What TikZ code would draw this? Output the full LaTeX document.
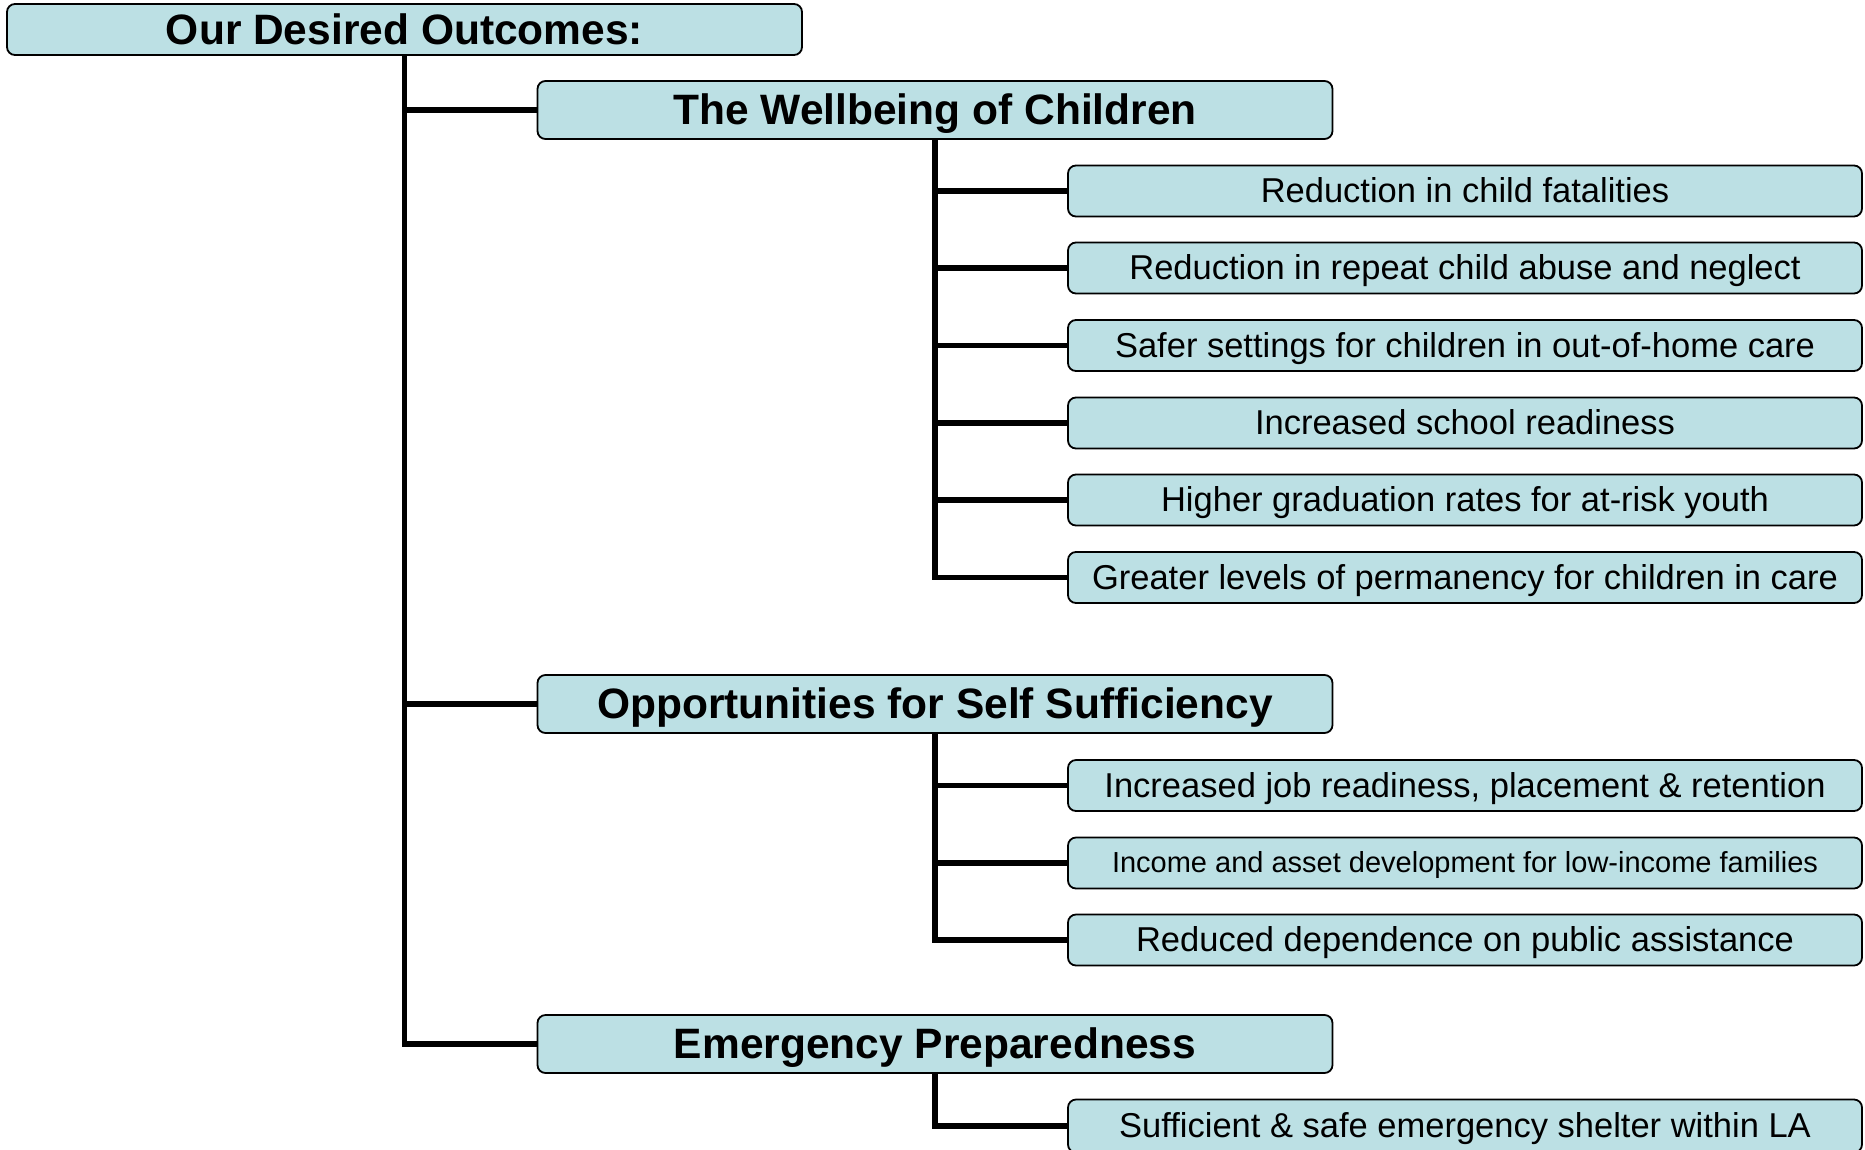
\documentclass[tikz,border=0pt]{standalone}
\usepackage{fontspec}
\setmainfont{Liberation Sans}
\usepackage{xcolor}
\definecolor{boxfill}{RGB}{188,224,228}

\begin{document}
\begin{tikzpicture}[x=1pt,y=-1pt]
	\tikzstyle{every node}+=[inner sep=0pt,text depth=0pt]
	\tikzstyle{headbox}=[draw=black,line width=1.8pt,fill=boxfill,rounded corners=8pt,minimum width=795pt,minimum height=58pt,text height=29pt,font=\fontsize{42.5}{50}\selectfont\bfseries]
	\tikzstyle{goalbox}=[draw=black,line width=1.8pt,fill=boxfill,rounded corners=8pt,minimum width=794pt,minimum height=51pt,text height=23.5pt,font=\fontsize{34.5}{40}\selectfont]
	\tikzstyle{trunk}=[black,line width=5.5pt]
	\useasboundingbox (0,0) rectangle (1865,1149);
	\node [headbox,minimum height=51pt] (top) at (404.5,29.5) {Our Desired Outcomes:};
	\node [headbox] (wb) at (935,110) {The Wellbeing of Children};
	\node [headbox] (opp) at (935,704) {Opportunities for Self Sufficiency};
	\node [headbox] (em) at (935,1044) {Emergency Preparedness};
	\node [goalbox] (w1) at (1465,191) {Reduction in child fatalities};
	\node [goalbox] (w2) at (1465,268) {Reduction in repeat child abuse and neglect};
	\node [goalbox] (w3) at (1465,345.5) {Safer settings for children in out-of-home care};
	\node [goalbox] (w4) at (1465,423) {Increased school readiness};
	\node [goalbox] (w5) at (1465,500) {Higher graduation rates for at-risk youth};
	\node [goalbox] (w6) at (1465,577.5) {Greater levels of permanency for children in care};
	\node [goalbox] (o1) at (1465,785.5) {Increased job readiness, placement \& retention};
	\node [goalbox,text height=19.5pt,font=\fontsize{29}{34}\selectfont] (o2) at (1465,863) {Income and asset development for low-income families};
	\node [goalbox] (o3) at (1465,940) {Reduced dependence on public assistance};
	\node [goalbox,minimum height=53pt] (e1) at (1465,1126) {Sufficient \& safe emergency shelter within LA};
	\draw [trunk] (top.south) |- (em.west);
	\draw [trunk] (top.south |- wb.west) -- (wb.west);
	\draw [trunk] (top.south |- opp.west) -- (opp.west);
	\draw [trunk] (wb.south) |- (w6.west);
	\foreach \g in {w1,w2,w3,w4,w5}
		\draw [trunk] (wb.south |- \g.west) -- (\g.west);
	\draw [trunk] (opp.south) |- (o3.west);
	\draw [trunk] (opp.south |- o1.west) -- (o1.west);
	\draw [trunk] (opp.south |- o2.west) -- (o2.west);
	\draw [trunk] (em.south) |- (e1.west);
\end{tikzpicture}
\end{document}
